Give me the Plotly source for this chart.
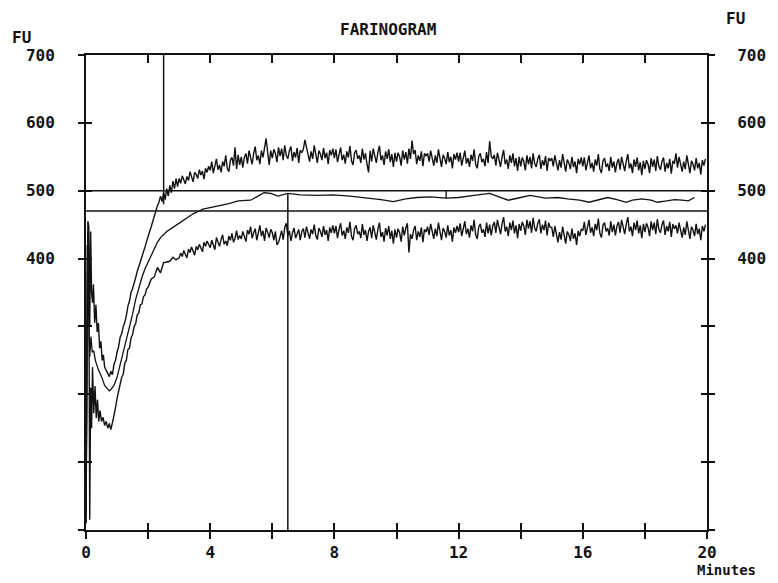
import plotly.graph_objects as go

# ---------------------------------------------------------------------------
# Farinogram data: dough consistency (FU) against mixing time (minutes)
# ---------------------------------------------------------------------------

# Upper envelope of the trace, mixing start (explicit times)
upper_t_early = [0.00, 0.03, 0.06, 0.09, 0.12, 0.15, 0.18, 0.21, 0.24,
                 0.28, 0.32, 0.36, 0.40, 0.44, 0.48, 0.52, 0.56, 0.60,
                 0.65, 0.70, 0.75, 0.80, 0.85, 0.90, 0.95, 1.00, 1.05, 1.10,
                 1.15, 1.20, 1.25, 1.30, 1.35, 1.40, 1.45, 1.50, 1.55, 1.60,
                 1.65, 1.70, 1.75, 1.80, 1.85, 1.90, 1.95, 2.00, 2.05, 2.10,
                 2.15, 2.20, 2.25, 2.30, 2.35, 2.40, 2.45, 2.50, 2.55, 2.60,
                 2.65, 2.70, 2.75, 2.80, 2.85, 2.90, 2.95]
upper_fu_early = [20, 380, 455, 448, 300, 440, 350, 335, 362,
                  305, 332, 292, 305, 268, 278, 250, 258, 240,
                  236, 230, 226, 234, 229, 244, 250, 262, 270, 284,
                  289, 300, 306, 316, 330, 337, 350, 356, 366, 372,
                  381, 388, 393, 401, 410, 417, 425, 431, 440, 447,
                  456, 464, 470, 478, 483, 492, 484, 497, 487, 503,
                  492, 508, 497, 514, 503, 518, 506]

# Upper envelope from 3.0 min, one reading every 0.05 min
upper_fu_plateau = [
    518, 511, 522, 517, 510, 521, 515, 528, 519, 513, 527, 524, 518, 531, 523, 529, 517, 533, 527, 536,
    530, 543, 526, 539, 547, 531, 538, 527, 543, 536, 552, 533, 528, 545, 549, 537, 564, 532, 553, 538,
    550, 534, 549, 555, 540, 559, 547, 539, 555, 565, 545, 552, 539, 559, 549, 563, 577, 557, 538, 559,
    548, 561, 555, 542, 564, 551, 562, 545, 567, 552, 547, 559, 565, 544, 557, 549, 563, 541, 560, 556,
    561, 575, 565, 555, 543, 558, 547, 567, 551, 541, 559, 554, 545, 563, 548, 556, 539, 560, 552, 562,
    548, 561, 542, 555, 564, 545, 553, 540, 558, 549, 566, 544, 538, 556, 560, 547, 552, 541, 562, 546,
    555, 539, 527, 559, 543, 562, 549, 541, 556, 566, 545, 552, 538, 558, 547, 561, 542, 554, 535, 556,
    543, 556, 550, 537, 559, 546, 557, 540, 562, 547, 574, 554, 560, 539, 552, 544, 558, 536, 555, 551,
    555, 543, 559, 549, 537, 552, 541, 561, 545, 535, 553, 548, 539, 557, 542, 550, 533, 554, 546, 556,
    543, 556, 537, 550, 559, 540, 548, 535, 553, 544, 561, 539, 533, 551, 555, 542, 547, 536, 557, 541,
    573, 551, 547, 553, 537, 556, 543, 535, 550, 560, 539, 546, 532, 552, 541, 555, 536, 548, 529, 550,
    536, 549, 543, 530, 552, 539, 550, 533, 555, 540, 535, 547, 553, 532, 545, 537, 551, 529, 548, 544,
    548, 536, 552, 542, 530, 545, 534, 554, 538, 528, 546, 541, 532, 550, 535, 543, 526, 547, 539, 549,
    536, 549, 530, 543, 552, 533, 541, 528, 546, 537, 554, 532, 526, 544, 548, 535, 540, 529, 550, 534,
    543, 527, 541, 547, 531, 550, 537, 529, 544, 554, 533, 540, 526, 546, 535, 549, 530, 542, 523, 544,
    532, 545, 539, 526, 548, 535, 546, 529, 551, 536, 531, 543, 549, 528, 541, 533, 547, 525, 544, 540,
    555, 534, 550, 540, 528, 543, 532, 552, 536, 526, 544, 539, 530, 548, 533, 541, 524, 545, 537, 547,
]

# Lower envelope of the trace, mixing start (explicit times)
lower_t_early = [0.00, 0.03, 0.06, 0.09, 0.12, 0.15, 0.18, 0.21,
                 0.25, 0.29, 0.33, 0.37, 0.41, 0.45,
                 0.50, 0.55, 0.60, 0.65, 0.70, 0.75, 0.80, 0.85, 0.90, 0.95,
                 1.00, 1.05, 1.10, 1.15, 1.20, 1.25, 1.30, 1.35, 1.40, 1.45,
                 1.50, 1.55, 1.60, 1.65, 1.70, 1.75, 1.80, 1.85, 1.90, 1.95,
                 2.00, 2.10, 2.20, 2.30, 2.40, 2.50, 2.60, 2.70, 2.80, 2.90]
lower_fu_early = [10, 300, 440, 400, 15, 210, 150, 240,
                  172, 212, 165, 192, 160, 176,
                  160, 166, 154, 160, 150, 157, 148, 158, 168, 180,
                  194, 204, 214, 225, 230, 246, 250, 266, 268, 283,
                  288, 300, 304, 317, 320, 332, 333, 344, 346, 355,
                  358, 370, 373, 387, 379, 394, 395, 396, 402, 398]

# Lower envelope from 3.0 min, one reading every 0.05 min
lower_fu_plateau = [
    401, 408, 403, 412, 406, 401, 414, 409, 417, 411, 405, 418, 413, 421, 415, 410, 424, 418, 426, 420,
    416, 427, 420, 413, 431, 423, 418, 428, 435, 421, 426, 419, 433, 427, 437, 424, 430, 441, 428, 434,
    429, 440, 434, 425, 442, 436, 447, 430, 438, 444, 427, 437, 449, 433, 441, 426, 445, 439, 431, 443,
    438, 427, 440, 420, 424, 432, 441, 428, 446, 452, 433, 441, 426, 438, 445, 430, 436, 443, 427, 440,
    444, 431, 447, 437, 429, 443, 436, 450, 434, 428, 445, 440, 432, 448, 435, 442, 426, 446, 438, 449,
    437, 448, 430, 443, 452, 434, 441, 429, 446, 438, 454, 433, 427, 444, 449, 436, 440, 430, 451, 435,
    442, 426, 440, 446, 430, 449, 436, 428, 443, 453, 432, 439, 425, 445, 434, 448, 429, 441, 422, 443,
    431, 444, 438, 425, 447, 434, 445, 452, 409, 436, 429, 442, 448, 427, 440, 432, 446, 424, 443, 439,
    447, 435, 451, 441, 429, 444, 433, 453, 437, 427, 445, 440, 431, 449, 434, 442, 425, 446, 438, 448,
    439, 452, 433, 446, 455, 436, 444, 431, 449, 440, 457, 435, 429, 447, 451, 438, 443, 432, 453, 437,
    450, 434, 448, 454, 438, 457, 444, 436, 451, 461, 440, 447, 433, 453, 442, 456, 437, 449, 430, 451,
    441, 454, 448, 435, 457, 444, 455, 438, 460, 445, 440, 452, 458, 437, 450, 442, 456, 434, 453, 446,
    446, 432, 448, 436, 424, 439, 428, 447, 432, 422, 440, 435, 426, 444, 429, 437, 420, 441, 433, 443,
    441, 454, 435, 448, 457, 438, 446, 433, 451, 442, 459, 437, 431, 449, 453, 440, 445, 434, 455, 439,
    450, 434, 448, 454, 438, 457, 444, 436, 451, 461, 440, 447, 433, 453, 442, 456, 437, 449, 430, 451,
    439, 452, 446, 433, 455, 442, 453, 436, 458, 443, 438, 450, 456, 435, 448, 440, 454, 432, 451, 444,
    449, 437, 453, 443, 431, 446, 435, 455, 439, 429, 447, 442, 433, 451, 436, 444, 427, 448, 440, 450,
]

PLATEAU_START = 3.0   # min
READ_STEP = 0.05      # min between plateau readings

# Centre (mean) curve
mid_t = [0.00, 0.04, 0.08, 0.12, 0.16, 0.20, 0.25, 0.30,
         0.40, 0.50, 0.60, 0.70, 0.75, 0.80, 0.90,
         1.00, 1.10, 1.20, 1.30, 1.40, 1.50, 1.60, 1.70, 1.80, 1.90,
         2.00, 2.10, 2.20, 2.30, 2.40, 2.50, 2.60,
         2.80, 3.00, 3.20, 3.45, 3.77,
         4.00, 4.26, 4.60, 4.90,
         5.30, 5.50, 5.73, 5.95, 6.18, 6.50, 6.90,
         7.45, 7.96, 8.50, 9.00, 9.50, 9.90,
         10.30, 10.65, 11.10, 11.60, 12.00, 12.50,
         13.00, 13.30, 13.60, 14.00, 14.30, 14.80,
         15.20, 15.50, 15.90, 16.20, 16.50, 16.80,
         17.10, 17.40, 17.60, 17.90, 18.20, 18.40,
         18.70, 18.95, 19.20, 19.40, 19.60]
mid_fu = [10, 420, 330, 255, 285, 262, 264, 250,
          236, 226, 213, 207, 205, 207, 213,
          225, 243, 261, 282, 299, 318, 340, 357, 372, 385,
          395, 405, 416, 424, 431, 436, 440,
          446, 452, 459, 466, 473,
          475, 477, 481, 485,
          486, 491, 497, 496, 492, 496, 494,
          493, 494, 492, 490, 487, 484,
          488, 490, 491, 489, 490, 493,
          496, 491, 486, 490, 493, 489,
          490, 488, 486, 483, 487, 490,
          487, 483, 486, 488, 486, 483,
          485, 487, 486, 485, 490]

# Evaluation lines
line_500 = 500            # FU consistency line
line_lower = 470          # FU lower reference line
arrival_time = 2.5        # min, upper curve reaches 500 FU
arrival_fu = 480
development_time = 6.5    # min, centre curve at its peak
development_fu = 496
stability_mark_time = 11.6
stability_mark_fu = 489

# Axis ticks
x_tick_vals = [0, 2, 4, 6, 8, 10, 12, 14, 16, 18, 20]
x_tick_text = ['0', '', '4', '', '8', '', '12', '', '16', '', '20']
y_tick_vals = [0, 100, 200, 300, 400, 500, 600, 700]
y_tick_text = ['', '', '', '', '400', '500', '600', '700']

# ---------------------------------------------------------------------------
ink = '#121212'
mono = 'DejaVu Sans Mono'

upper_t = upper_t_early + [round(PLATEAU_START + READ_STEP * i, 2)
                           for i in range(len(upper_fu_plateau))]
upper_fu = upper_fu_early + upper_fu_plateau
lower_t = lower_t_early + [round(PLATEAU_START + READ_STEP * i, 2)
                           for i in range(len(lower_fu_plateau))]
lower_fu = lower_fu_early + lower_fu_plateau

fig = go.Figure()


def add_line(x, y, width=1.4):
    fig.add_trace(go.Scatter(x=x, y=y, mode='lines',
                             line=dict(color=ink, width=width),
                             hoverinfo='skip', showlegend=False))


# reference lines
add_line([0, 20], [line_500, line_500], 1.6)
add_line([0, 20], [line_lower, line_lower], 1.6)
add_line([arrival_time, arrival_time], [700, arrival_fu], 1.5)
add_line([development_time, development_time], [development_fu, 0], 1.5)
add_line([stability_mark_time, stability_mark_time],
         [stability_mark_fu, line_500], 1.3)

# curves
add_line(upper_t, upper_fu, 1.4)
add_line(lower_t, lower_fu, 1.4)
add_line(mid_t, mid_fu, 1.3)

# empty traces so the overlaid tick axes are rendered
for xa, ya in (('x2', 'y2'), ('x3', 'y3'), ('x2', 'y4')):
    fig.add_trace(go.Scatter(x=[], y=[], xaxis=xa, yaxis=ya,
                             showlegend=False, hoverinfo='skip'))

tick_font = dict(family=mono, size=16, color=ink, weight='bold')
common = dict(showgrid=False, zeroline=False, tickcolor=ink, tickwidth=1.5)

fig.update_layout(
    width=778, height=583,
    margin=dict(l=86, r=66, t=55, b=53),
    paper_bgcolor='white', plot_bgcolor='white',
    showlegend=False,
    xaxis=dict(range=[0, 20], tickvals=x_tick_vals, ticktext=x_tick_text,
               ticks='outside', ticklen=7, showline=True, linecolor=ink,
               linewidth=2, tickfont=tick_font, ticklabelstandoff=0, **common),
    xaxis2=dict(range=[0, 20], overlaying='x', side='bottom', anchor='y',
                tickvals=x_tick_vals, ticks='inside', ticklen=7,
                showticklabels=False, showline=False, **common),
    xaxis3=dict(range=[0, 20], overlaying='x', side='top', anchor='y',
                tickvals=x_tick_vals, ticks='inside', ticklen=8,
                showticklabels=False, showline=True, linecolor=ink,
                linewidth=2, **common),
    yaxis=dict(range=[0, 700], tickvals=y_tick_vals, ticktext=y_tick_text,
               ticks='outside', ticklen=6, showline=True, linecolor=ink,
               linewidth=2, tickfont=tick_font, ticklabelstandoff=20,
               **common),
    yaxis2=dict(range=[0, 700], overlaying='y', side='left', anchor='x',
                tickvals=y_tick_vals, ticks='inside', ticklen=6,
                showticklabels=False, showline=False, **common),
    yaxis3=dict(range=[0, 700], overlaying='y', side='right', anchor='x',
                tickvals=y_tick_vals, ticktext=y_tick_text, ticks='outside',
                ticklen=6, showline=True, linecolor=ink, linewidth=2,
                tickfont=tick_font, ticklabelstandoff=19, **common),
    yaxis4=dict(range=[0, 700], overlaying='y', side='right', anchor='x',
                tickvals=y_tick_vals, ticks='inside', ticklen=6,
                showticklabels=False, showline=False, **common),
)

label_font = dict(family=mono, size=16, color=ink, weight='bold')
fig.add_annotation(text='FARINOGRAM', xref='paper', yref='paper',
                   x=0.486, y=1.053, showarrow=False, font=label_font,
                   xanchor='center', yanchor='middle')
fig.add_annotation(text='FU', xref='paper', yref='paper',
                   x=-0.104, y=1.036, showarrow=False, font=label_font,
                   xanchor='center', yanchor='middle')
fig.add_annotation(text='FU', xref='paper', yref='paper',
                   x=1.046, y=1.076, showarrow=False, font=label_font,
                   xanchor='center', yanchor='middle')
fig.add_annotation(text='Minutes', xref='paper', yref='paper',
                   x=0.98, y=-0.105, showarrow=False,
                   font=dict(family=mono, size=14, color=ink, weight='bold'),
                   xanchor='left', yanchor='bottom')

fig.write_html('out.html')
